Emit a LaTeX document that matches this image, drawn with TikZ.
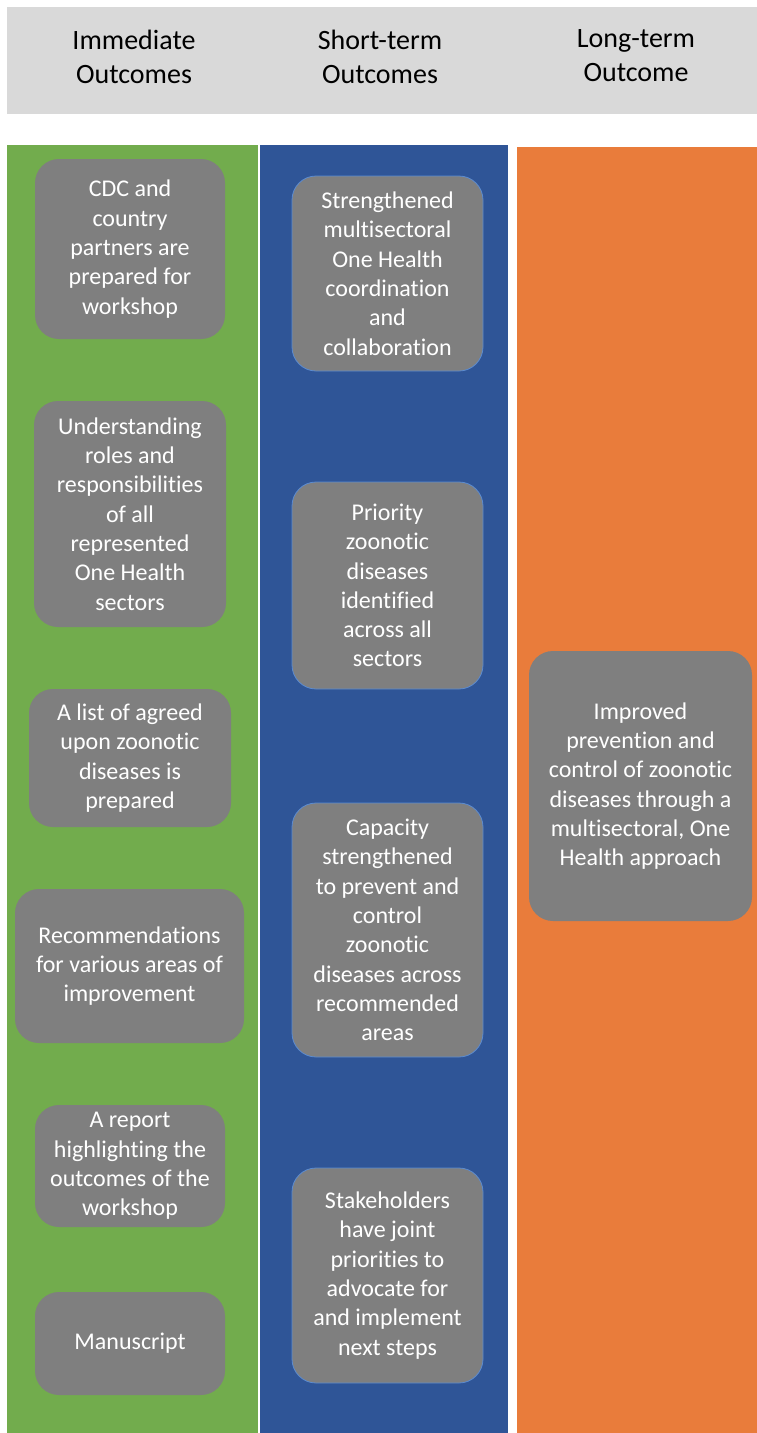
\documentclass[tikz,border=0pt]{standalone}
\usepackage{fontspec}
\setmainfont{Carlito}[Ligatures=NoCommon]
\definecolor{hdrgray}{HTML}{D9D9D9}
\definecolor{colgreen}{HTML}{72AC4D}
\definecolor{colblue}{HTML}{2F5597}
\definecolor{colorange}{HTML}{E97C3B}
\definecolor{boxgray}{HTML}{7F7F7F}
\definecolor{boxedge}{HTML}{5B8BD0}
\begin{document}
\begin{tikzpicture}[x=1pt,y=-1pt,
        hdr/.style={align=center,font=\fontsize{28}{34}\selectfont},
        outcome/.style={fill=boxgray,rounded corners=24pt,inner sep=0pt,align=center,
            text=white,font=\fontsize{24}{29.3}\selectfont},
        edged/.style={outcome,draw=boxedge,line width=0.8pt}]
    \useasboundingbox (0,0) rectangle (757,1433);

    % header band and the three columns
    \fill[hdrgray] (7,7) rectangle (757,114);
    \fill[colgreen] (7,145) rectangle (258,1433);
    \fill[colblue] (260,145) rectangle (508,1433);
    \fill[colorange] (517,147) rectangle (757,1433);

    \node[hdr] (HI) at (134,57) {Immediate\\Outcomes};
    \node[hdr] (HS) at (380,57) {Short-term\\Outcomes};
    \node[hdr] (HL) at (636,56) {Long-term\\Outcome};

    % immediate outcomes
    \node[outcome,minimum width=190,minimum height=180] (I1) at (130,249)
        {CDC and\\country\\partners are\\prepared for\\workshop};
    \node[outcome,minimum width=192,minimum height=226] (I2) at (130,514)
        {Understanding\\roles and\\responsibilities\\of all\\represented\\One Health\\sectors};
    \node[outcome,minimum width=202,minimum height=138] (I3) at (130,758)
        {A list of agreed\\upon zoonotic\\diseases is\\prepared};
    \node[outcome,minimum width=229,minimum height=154] (I4) at (129.5,966)
        {Recommendations\\for various areas of\\improvement};
    \node[outcome,minimum width=190,minimum height=122] (I5) at (130,1166)
        {A report\\highlighting the\\outcomes of the\\workshop};
    \node[outcome,minimum width=190,minimum height=103] (I6) at (130,1343.5)
        {Manuscript};

    % short-term outcomes
    \node[edged,minimum width=191,minimum height=195] (S1) at (387.5,273.5)
        {Strengthened\\multisectoral\\One Health\\coordination\\and\\collaboration};
    \node[edged,minimum width=191,minimum height=207] (S2) at (387.5,585.5)
        {Priority\\zoonotic\\diseases\\identified\\across all\\sectors};
    \node[edged,minimum width=191,minimum height=254] (S3) at (387.5,930)
        {Capacity\\strengthened\\to prevent and\\control\\zoonotic\\diseases across\\recommended\\areas};
    \node[edged,minimum width=191,minimum height=215] (S4) at (387.5,1275.5)
        {Stakeholders\\have joint\\priorities to\\advocate for\\and implement\\next steps};

    % long-term outcome
    \node[outcome,minimum width=223,minimum height=270] (L1) at (640.5,786)
        {Improved\\prevention and\\control of zoonotic\\diseases through a\\multisectoral, One\\Health approach};
\end{tikzpicture}
\end{document}
